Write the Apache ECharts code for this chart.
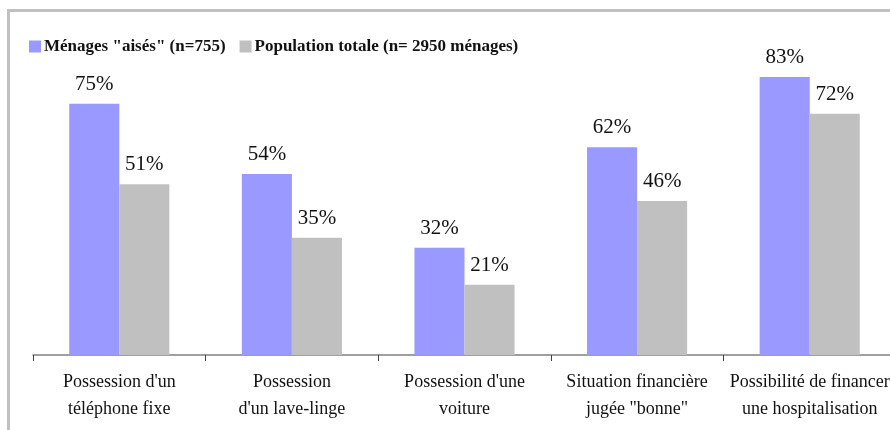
<!DOCTYPE html>
<html>
<head>
<meta charset="utf-8">
<script src="https://cdn.jsdelivr.net/npm/echarts@6/dist/echarts.min.js"></script>
<style>
  html, body { margin: 0; padding: 0; background: #fff; }
  #chart { width: 890px; height: 430px; }
</style>
</head>
<body>
<div id="chart"></div>
<script>
// Household indicators: well-off households vs. total population (%)
const categories = [
  "Possession d'un\ntéléphone fixe",
  "Possession\nd'un lave-linge",
  "Possession d'une\nvoiture",
  "Situation financière\njugée \"bonne\"",
  "Possibilité de financer\nune hospitalisation"
];
const seriesNames = ['Ménages "aisés" (n=755)', 'Population totale (n= 2950 ménages)'];
const menagesAises = [75, 54, 32, 62, 83];
const populationTotale = [51, 35, 21, 46, 72];

const FONT = '"Liberation Serif", "DejaVu Serif", serif';

const chart = echarts.init(document.getElementById('chart'), null, { renderer: 'canvas' });

const labelStyle = {
  show: true,
  position: 'top',
  distance: 9,
  formatter: p => p.value + '%',
  fontFamily: FONT,
  fontSize: 21,
  color: '#111'
};

chart.setOption({
  animation: false,
  backgroundColor: '#fff',
  graphic: [{
    type: 'rect',
    shape: { x: 8.5, y: 10.5, width: 1000, height: 1000 },
    style: { fill: 'none', stroke: '#c0c0c0', lineWidth: 3 },
    silent: true,
    z: 10
  }],
  legend: {
    left: 24,
    top: 33,
    itemWidth: 12,
    itemHeight: 12,
    itemGap: 14,
    icon: 'rect',
    textStyle: { fontFamily: FONT, fontSize: 17, fontWeight: 'bold', color: '#111', padding: [0, 0, 0, -2] },
    data: seriesNames
  },
  grid: { left: 33, width: 863, top: 20, bottom: 75, containLabel: false, outerBoundsMode: 'none' },
  xAxis: {
    type: 'category',
    data: categories,
    axisLine: { lineStyle: { color: '#808080', width: 1.5 } },
    axisTick: { show: true, length: 6, lineStyle: { color: '#404040' } },
    axisLabel: {
      interval: 0,
      margin: 14,
      fontFamily: FONT,
      fontSize: 18,
      lineHeight: 27,
      color: '#111'
    }
  },
  yAxis: {
    type: 'value',
    min: 0,
    max: 100,
    show: false,
    splitLine: { show: false }
  },
  series: [
    {
      name: seriesNames[0],
      type: 'bar',
      data: menagesAises,
      barGap: '0%',
      barCategoryGap: '42%',
      itemStyle: { color: '#9999ff' },
      label: labelStyle
    },
    {
      name: seriesNames[1],
      type: 'bar',
      data: populationTotale,
      itemStyle: { color: '#c0c0c0' },
      label: labelStyle
    }
  ]
});
</script>
</body>
</html>
